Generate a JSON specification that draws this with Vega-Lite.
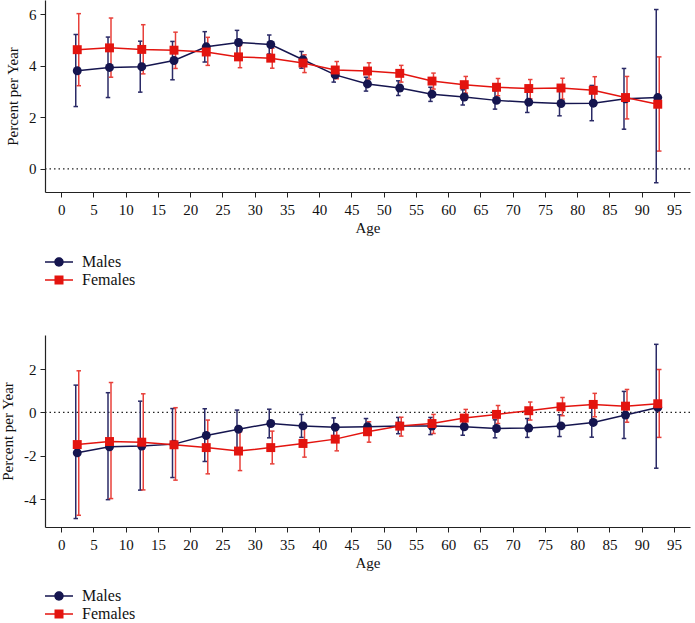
{
  "$schema": "https://vega.github.io/schema/vega-lite/v6.json",
  "background": "white",
  "padding": {"left": 0, "top": 0, "right": 5, "bottom": 0},
  "spacing": 47,
  "config": {
    "font": "Liberation Serif",
    "view": {"stroke": null},
    "axis": {"domainColor": "#222", "tickColor": "#222", "labelColor": "#111", "titleColor": "#111", "grid": false, "labelFont": "Liberation Serif", "titleFont": "Liberation Serif", "labelFontSize": 15, "titleFontSize": 15, "titleFontWeight": "normal", "tickSize": 5, "domainWidth": 1.2, "tickWidth": 1},
    "axisX": {"labelPadding": 5, "titlePadding": 3, "labelFlush": false, "labelOverlap": false},
    "axisY": {"labelPadding": 4, "titlePadding": 8, "labelExpr": "'' + datum.value"},
    "legend": {"labelFont": "Liberation Serif", "labelFontSize": 16, "labelColor": "#111"}
  },
  "resolve": {"scale": {"color": "independent", "shape": "independent"}, "legend": {"color": "independent", "shape": "independent"}},
  "datasets": {
    "top": [
      {"age": 2.5, "sex": "Males", "v": 3.81, "lo": 2.42, "hi": 5.22},
      {"age": 7.5, "sex": "Males", "v": 3.94, "lo": 2.77, "hi": 5.12},
      {"age": 12.5, "sex": "Males", "v": 3.97, "lo": 2.98, "hi": 4.96},
      {"age": 17.5, "sex": "Males", "v": 4.21, "lo": 3.46, "hi": 4.95},
      {"age": 22.5, "sex": "Males", "v": 4.74, "lo": 4.15, "hi": 5.33},
      {"age": 27.5, "sex": "Males", "v": 4.91, "lo": 4.45, "hi": 5.38},
      {"age": 32.5, "sex": "Males", "v": 4.83, "lo": 4.46, "hi": 5.20},
      {"age": 37.5, "sex": "Males", "v": 4.24, "lo": 3.91, "hi": 4.56},
      {"age": 42.5, "sex": "Males", "v": 3.65, "lo": 3.37, "hi": 3.94},
      {"age": 47.5, "sex": "Males", "v": 3.30, "lo": 3.02, "hi": 3.56},
      {"age": 52.5, "sex": "Males", "v": 3.14, "lo": 2.85, "hi": 3.42},
      {"age": 57.5, "sex": "Males", "v": 2.90, "lo": 2.62, "hi": 3.17},
      {"age": 62.5, "sex": "Males", "v": 2.79, "lo": 2.48, "hi": 3.07},
      {"age": 67.5, "sex": "Males", "v": 2.66, "lo": 2.32, "hi": 3.03},
      {"age": 72.5, "sex": "Males", "v": 2.59, "lo": 2.19, "hi": 3.01},
      {"age": 77.5, "sex": "Males", "v": 2.54, "lo": 2.06, "hi": 3.12},
      {"age": 82.5, "sex": "Males", "v": 2.55, "lo": 1.87, "hi": 3.24},
      {"age": 87.5, "sex": "Males", "v": 2.72, "lo": 1.54, "hi": 3.90},
      {"age": 92.5, "sex": "Males", "v": 2.77, "lo": -0.54, "hi": 6.19},
      {"age": 2.5, "sex": "Females", "v": 4.63, "lo": 3.23, "hi": 6.03},
      {"age": 7.5, "sex": "Females", "v": 4.70, "lo": 3.56, "hi": 5.86},
      {"age": 12.5, "sex": "Females", "v": 4.64, "lo": 3.69, "hi": 5.60},
      {"age": 17.5, "sex": "Females", "v": 4.61, "lo": 3.90, "hi": 5.31},
      {"age": 22.5, "sex": "Females", "v": 4.54, "lo": 4.02, "hi": 5.11},
      {"age": 27.5, "sex": "Females", "v": 4.35, "lo": 3.93, "hi": 4.79},
      {"age": 32.5, "sex": "Females", "v": 4.30, "lo": 3.91, "hi": 4.69},
      {"age": 37.5, "sex": "Females", "v": 4.11, "lo": 3.74, "hi": 4.43},
      {"age": 42.5, "sex": "Females", "v": 3.84, "lo": 3.50, "hi": 4.17},
      {"age": 47.5, "sex": "Females", "v": 3.80, "lo": 3.49, "hi": 4.12},
      {"age": 52.5, "sex": "Females", "v": 3.71, "lo": 3.37, "hi": 4.02},
      {"age": 57.5, "sex": "Females", "v": 3.41, "lo": 3.10, "hi": 3.72},
      {"age": 62.5, "sex": "Females", "v": 3.27, "lo": 2.94, "hi": 3.59},
      {"age": 67.5, "sex": "Females", "v": 3.17, "lo": 2.84, "hi": 3.51},
      {"age": 72.5, "sex": "Females", "v": 3.12, "lo": 2.72, "hi": 3.47},
      {"age": 77.5, "sex": "Females", "v": 3.14, "lo": 2.71, "hi": 3.52},
      {"age": 82.5, "sex": "Females", "v": 3.05, "lo": 2.50, "hi": 3.58},
      {"age": 87.5, "sex": "Females", "v": 2.77, "lo": 1.94, "hi": 3.59},
      {"age": 92.5, "sex": "Females", "v": 2.51, "lo": 0.69, "hi": 4.35}
    ],
    "bottom": [
      {"age": 2.5, "sex": "Males", "v": -1.86, "lo": -4.89, "hi": 1.26},
      {"age": 7.5, "sex": "Males", "v": -1.58, "lo": -4.02, "hi": 0.91},
      {"age": 12.5, "sex": "Males", "v": -1.55, "lo": -3.58, "hi": 0.52},
      {"age": 17.5, "sex": "Males", "v": -1.46, "lo": -3.00, "hi": 0.18},
      {"age": 22.5, "sex": "Males", "v": -1.06, "lo": -2.26, "hi": 0.17},
      {"age": 27.5, "sex": "Males", "v": -0.77, "lo": -1.63, "hi": 0.11},
      {"age": 32.5, "sex": "Males", "v": -0.51, "lo": -1.17, "hi": 0.15},
      {"age": 37.5, "sex": "Males", "v": -0.62, "lo": -1.15, "hi": -0.09},
      {"age": 42.5, "sex": "Males", "v": -0.68, "lo": -1.12, "hi": -0.25},
      {"age": 47.5, "sex": "Males", "v": -0.66, "lo": -1.02, "hi": -0.28},
      {"age": 52.5, "sex": "Males", "v": -0.62, "lo": -0.98, "hi": -0.23},
      {"age": 57.5, "sex": "Males", "v": -0.63, "lo": -1.02, "hi": -0.23},
      {"age": 62.5, "sex": "Males", "v": -0.66, "lo": -1.05, "hi": -0.26},
      {"age": 67.5, "sex": "Males", "v": -0.74, "lo": -1.17, "hi": -0.34},
      {"age": 72.5, "sex": "Males", "v": -0.72, "lo": -1.15, "hi": -0.28},
      {"age": 77.5, "sex": "Males", "v": -0.62, "lo": -1.11, "hi": -0.11},
      {"age": 82.5, "sex": "Males", "v": -0.46, "lo": -1.14, "hi": 0.23},
      {"age": 87.5, "sex": "Males", "v": -0.12, "lo": -1.20, "hi": 0.97},
      {"age": 92.5, "sex": "Males", "v": 0.23, "lo": -2.57, "hi": 3.14},
      {"age": 2.5, "sex": "Females", "v": -1.48, "lo": -4.74, "hi": 1.92},
      {"age": 7.5, "sex": "Females", "v": -1.34, "lo": -3.97, "hi": 1.38},
      {"age": 12.5, "sex": "Females", "v": -1.37, "lo": -3.57, "hi": 0.86},
      {"age": 17.5, "sex": "Females", "v": -1.49, "lo": -3.12, "hi": 0.22},
      {"age": 22.5, "sex": "Females", "v": -1.62, "lo": -2.83, "hi": -0.35},
      {"age": 27.5, "sex": "Females", "v": -1.78, "lo": -2.68, "hi": -0.89},
      {"age": 32.5, "sex": "Females", "v": -1.62, "lo": -2.37, "hi": -0.86},
      {"age": 37.5, "sex": "Females", "v": -1.43, "lo": -2.06, "hi": -0.69},
      {"age": 42.5, "sex": "Females", "v": -1.23, "lo": -1.77, "hi": -0.71},
      {"age": 47.5, "sex": "Females", "v": -0.89, "lo": -1.37, "hi": -0.43},
      {"age": 52.5, "sex": "Females", "v": -0.63, "lo": -1.09, "hi": -0.22},
      {"age": 57.5, "sex": "Females", "v": -0.51, "lo": -0.97, "hi": -0.09},
      {"age": 62.5, "sex": "Females", "v": -0.26, "lo": -0.69, "hi": 0.14},
      {"age": 67.5, "sex": "Females", "v": -0.09, "lo": -0.51, "hi": 0.32},
      {"age": 72.5, "sex": "Females", "v": 0.08, "lo": -0.35, "hi": 0.48},
      {"age": 77.5, "sex": "Females", "v": 0.26, "lo": -0.15, "hi": 0.69},
      {"age": 82.5, "sex": "Females", "v": 0.37, "lo": -0.20, "hi": 0.88},
      {"age": 87.5, "sex": "Females", "v": 0.29, "lo": -0.45, "hi": 1.06},
      {"age": 92.5, "sex": "Females", "v": 0.40, "lo": -1.15, "hi": 1.98}
    ]
  },
  "vconcat": [
    {
      "width": 645, "height": 192,
      "data": {"name": "top"},
      "layer": [
        {"data": {"values": [{"ref": 0}]}, "mark": {"type": "rule", "strokeDash": [1.5, 3], "color": "#222", "strokeWidth": 1.2}, "encoding": {"y": {"field": "ref", "type": "quantitative", "scale": {"domain": [-0.9, 6.56], "nice": false, "zero": false}, "axis": {"values": [0, 2, 4, 6]}, "title": "Percent per Year"}}},
        {"transform": [{"filter": "datum.sex === 'Males'"}], "mark": {"type": "rule", "color": "#2a2a66", "strokeWidth": 1.5, "xOffset": -1.5}, "encoding": {"x": {"field": "age", "type": "quantitative", "scale": {"domain": [-2.5, 97.5], "nice": false, "zero": false}, "axis": {"values": [0, 5, 10, 15, 20, 25, 30, 35, 40, 45, 50, 55, 60, 65, 70, 75, 80, 85, 90, 95]}, "title": "Age"}, "y": {"field": "lo", "type": "quantitative", "axis": {"values": [0, 2, 4, 6]}, "title": "Percent per Year"}, "y2": {"field": "hi"}}},
        {"transform": [{"filter": "datum.sex === 'Males'"}], "mark": {"type": "tick", "orient": "horizontal", "color": "#2a2a66", "size": 4.5, "thickness": 1.5, "opacity": 1, "xOffset": -1.5}, "encoding": {"x": {"field": "age", "type": "quantitative", "axis": {"values": [0, 5, 10, 15, 20, 25, 30, 35, 40, 45, 50, 55, 60, 65, 70, 75, 80, 85, 90, 95]}, "title": "Age"}, "y": {"field": "lo", "type": "quantitative", "axis": {"values": [0, 2, 4, 6]}, "title": "Percent per Year"}}},
        {"transform": [{"filter": "datum.sex === 'Males'"}], "mark": {"type": "tick", "orient": "horizontal", "color": "#2a2a66", "size": 4.5, "thickness": 1.5, "opacity": 1, "xOffset": -1.5}, "encoding": {"x": {"field": "age", "type": "quantitative", "axis": {"values": [0, 5, 10, 15, 20, 25, 30, 35, 40, 45, 50, 55, 60, 65, 70, 75, 80, 85, 90, 95]}, "title": "Age"}, "y": {"field": "hi", "type": "quantitative", "axis": {"values": [0, 2, 4, 6]}, "title": "Percent per Year"}}},
        {"transform": [{"filter": "datum.sex === 'Females'"}], "mark": {"type": "rule", "color": "#e8403a", "strokeWidth": 1.5, "xOffset": 1.5}, "encoding": {"x": {"field": "age", "type": "quantitative", "axis": {"values": [0, 5, 10, 15, 20, 25, 30, 35, 40, 45, 50, 55, 60, 65, 70, 75, 80, 85, 90, 95]}, "title": "Age"}, "y": {"field": "lo", "type": "quantitative", "axis": {"values": [0, 2, 4, 6]}, "title": "Percent per Year"}, "y2": {"field": "hi"}}},
        {"transform": [{"filter": "datum.sex === 'Females'"}], "mark": {"type": "tick", "orient": "horizontal", "color": "#e8403a", "size": 4.5, "thickness": 1.5, "opacity": 1, "xOffset": 1.5}, "encoding": {"x": {"field": "age", "type": "quantitative", "axis": {"values": [0, 5, 10, 15, 20, 25, 30, 35, 40, 45, 50, 55, 60, 65, 70, 75, 80, 85, 90, 95]}, "title": "Age"}, "y": {"field": "lo", "type": "quantitative", "axis": {"values": [0, 2, 4, 6]}, "title": "Percent per Year"}}},
        {"transform": [{"filter": "datum.sex === 'Females'"}], "mark": {"type": "tick", "orient": "horizontal", "color": "#e8403a", "size": 4.5, "thickness": 1.5, "opacity": 1, "xOffset": 1.5}, "encoding": {"x": {"field": "age", "type": "quantitative", "axis": {"values": [0, 5, 10, 15, 20, 25, 30, 35, 40, 45, 50, 55, 60, 65, 70, 75, 80, 85, 90, 95]}, "title": "Age"}, "y": {"field": "hi", "type": "quantitative", "axis": {"values": [0, 2, 4, 6]}, "title": "Percent per Year"}}},
        {"transform": [{"filter": "datum.sex === 'Males'"}], "mark": {"type": "line", "color": "#15154f", "strokeWidth": 1.5}, "encoding": {"x": {"field": "age", "type": "quantitative", "axis": {"values": [0, 5, 10, 15, 20, 25, 30, 35, 40, 45, 50, 55, 60, 65, 70, 75, 80, 85, 90, 95]}, "title": "Age"}, "y": {"field": "v", "type": "quantitative", "axis": {"values": [0, 2, 4, 6]}, "title": "Percent per Year"}}},
        {"transform": [{"filter": "datum.sex === 'Females'"}], "mark": {"type": "line", "color": "#e3140f", "strokeWidth": 1.5}, "encoding": {"x": {"field": "age", "type": "quantitative", "axis": {"values": [0, 5, 10, 15, 20, 25, 30, 35, 40, 45, 50, 55, 60, 65, 70, 75, 80, 85, 90, 95]}, "title": "Age"}, "y": {"field": "v", "type": "quantitative", "axis": {"values": [0, 2, 4, 6]}, "title": "Percent per Year"}}},
        {"transform": [{"filter": "datum.sex === 'Males'"}], "mark": {"type": "point", "shape": "circle", "filled": true, "opacity": 1, "size": 80, "color": "#15154f"}, "encoding": {"x": {"field": "age", "type": "quantitative", "axis": {"values": [0, 5, 10, 15, 20, 25, 30, 35, 40, 45, 50, 55, 60, 65, 70, 75, 80, 85, 90, 95]}, "title": "Age"}, "y": {"field": "v", "type": "quantitative", "axis": {"values": [0, 2, 4, 6]}, "title": "Percent per Year"}}},
        {"transform": [{"filter": "datum.sex === 'Females'"}], "mark": {"type": "point", "shape": "square", "filled": true, "opacity": 1, "size": 80, "color": "#e3140f"}, "encoding": {"x": {"field": "age", "type": "quantitative", "axis": {"values": [0, 5, 10, 15, 20, 25, 30, 35, 40, 45, 50, 55, 60, 65, 70, 75, 80, 85, 90, 95]}, "title": "Age"}, "y": {"field": "v", "type": "quantitative", "axis": {"values": [0, 2, 4, 6]}, "title": "Percent per Year"}}},
        {"transform": [{"filter": "false"}], "mark": {"type": "point", "filled": true, "opacity": 1, "size": 400}, "encoding": {
          "x": {"field": "age", "type": "quantitative", "axis": {"values": [0, 5, 10, 15, 20, 25, 30, 35, 40, 45, 50, 55, 60, 65, 70, 75, 80, 85, 90, 95]}, "title": "Age"},
          "y": {"field": "v", "type": "quantitative", "axis": {"values": [0, 2, 4, 6]}, "title": "Percent per Year"},
          "color": {"field": "sex", "type": "nominal", "scale": {"domain": ["Males", "Females"], "range": ["#15154f", "#e3140f"]}, "legend": {"title": null, "orient": "none", "legendX": 4, "legendY": 252, "symbolSize": 400, "labelOffset": 13, "rowPadding": 0, "symbolStrokeWidth": 0}},
          "shape": {"field": "sex", "type": "nominal", "scale": {"domain": ["Males", "Females"], "range": ["M-1.4,-0.08H1.4V0.08H-1.4ZM0.47,0A0.47,0.47,0,1,1,-0.47,0A0.47,0.47,0,1,1,0.47,0Z", "M-1.4,-0.08H1.4V0.08H-1.4ZM-0.45,-0.45H0.45V0.45H-0.45Z"]}, "legend": {"title": null, "orient": "none", "legendX": 4, "legendY": 252, "symbolSize": 400, "labelOffset": 13, "rowPadding": 0, "symbolStrokeWidth": 0}}
        }}
      ]
    },
    {
      "width": 645, "height": 192,
      "data": {"name": "bottom"},
      "layer": [
        {"data": {"values": [{"ref": 0}]}, "mark": {"type": "rule", "strokeDash": [1.5, 3], "color": "#222", "strokeWidth": 1.2}, "encoding": {"y": {"field": "ref", "type": "quantitative", "scale": {"domain": [-5.28, 3.57], "nice": false, "zero": false}, "axis": {"values": [-4, -2, 0, 2]}, "title": "Percent per Year"}}},
        {"transform": [{"filter": "datum.sex === 'Males'"}], "mark": {"type": "rule", "color": "#2a2a66", "strokeWidth": 1.5, "xOffset": -1.5}, "encoding": {"x": {"field": "age", "type": "quantitative", "scale": {"domain": [-2.5, 97.5], "nice": false, "zero": false}, "axis": {"values": [0, 5, 10, 15, 20, 25, 30, 35, 40, 45, 50, 55, 60, 65, 70, 75, 80, 85, 90, 95]}, "title": "Age"}, "y": {"field": "lo", "type": "quantitative", "axis": {"values": [-4, -2, 0, 2]}, "title": "Percent per Year"}, "y2": {"field": "hi"}}},
        {"transform": [{"filter": "datum.sex === 'Males'"}], "mark": {"type": "tick", "orient": "horizontal", "color": "#2a2a66", "size": 4.5, "thickness": 1.5, "opacity": 1, "xOffset": -1.5}, "encoding": {"x": {"field": "age", "type": "quantitative", "axis": {"values": [0, 5, 10, 15, 20, 25, 30, 35, 40, 45, 50, 55, 60, 65, 70, 75, 80, 85, 90, 95]}, "title": "Age"}, "y": {"field": "lo", "type": "quantitative", "axis": {"values": [-4, -2, 0, 2]}, "title": "Percent per Year"}}},
        {"transform": [{"filter": "datum.sex === 'Males'"}], "mark": {"type": "tick", "orient": "horizontal", "color": "#2a2a66", "size": 4.5, "thickness": 1.5, "opacity": 1, "xOffset": -1.5}, "encoding": {"x": {"field": "age", "type": "quantitative", "axis": {"values": [0, 5, 10, 15, 20, 25, 30, 35, 40, 45, 50, 55, 60, 65, 70, 75, 80, 85, 90, 95]}, "title": "Age"}, "y": {"field": "hi", "type": "quantitative", "axis": {"values": [-4, -2, 0, 2]}, "title": "Percent per Year"}}},
        {"transform": [{"filter": "datum.sex === 'Females'"}], "mark": {"type": "rule", "color": "#e8403a", "strokeWidth": 1.5, "xOffset": 1.5}, "encoding": {"x": {"field": "age", "type": "quantitative", "axis": {"values": [0, 5, 10, 15, 20, 25, 30, 35, 40, 45, 50, 55, 60, 65, 70, 75, 80, 85, 90, 95]}, "title": "Age"}, "y": {"field": "lo", "type": "quantitative", "axis": {"values": [-4, -2, 0, 2]}, "title": "Percent per Year"}, "y2": {"field": "hi"}}},
        {"transform": [{"filter": "datum.sex === 'Females'"}], "mark": {"type": "tick", "orient": "horizontal", "color": "#e8403a", "size": 4.5, "thickness": 1.5, "opacity": 1, "xOffset": 1.5}, "encoding": {"x": {"field": "age", "type": "quantitative", "axis": {"values": [0, 5, 10, 15, 20, 25, 30, 35, 40, 45, 50, 55, 60, 65, 70, 75, 80, 85, 90, 95]}, "title": "Age"}, "y": {"field": "lo", "type": "quantitative", "axis": {"values": [-4, -2, 0, 2]}, "title": "Percent per Year"}}},
        {"transform": [{"filter": "datum.sex === 'Females'"}], "mark": {"type": "tick", "orient": "horizontal", "color": "#e8403a", "size": 4.5, "thickness": 1.5, "opacity": 1, "xOffset": 1.5}, "encoding": {"x": {"field": "age", "type": "quantitative", "axis": {"values": [0, 5, 10, 15, 20, 25, 30, 35, 40, 45, 50, 55, 60, 65, 70, 75, 80, 85, 90, 95]}, "title": "Age"}, "y": {"field": "hi", "type": "quantitative", "axis": {"values": [-4, -2, 0, 2]}, "title": "Percent per Year"}}},
        {"transform": [{"filter": "datum.sex === 'Males'"}], "mark": {"type": "line", "color": "#15154f", "strokeWidth": 1.5}, "encoding": {"x": {"field": "age", "type": "quantitative", "axis": {"values": [0, 5, 10, 15, 20, 25, 30, 35, 40, 45, 50, 55, 60, 65, 70, 75, 80, 85, 90, 95]}, "title": "Age"}, "y": {"field": "v", "type": "quantitative", "axis": {"values": [-4, -2, 0, 2]}, "title": "Percent per Year"}}},
        {"transform": [{"filter": "datum.sex === 'Females'"}], "mark": {"type": "line", "color": "#e3140f", "strokeWidth": 1.5}, "encoding": {"x": {"field": "age", "type": "quantitative", "axis": {"values": [0, 5, 10, 15, 20, 25, 30, 35, 40, 45, 50, 55, 60, 65, 70, 75, 80, 85, 90, 95]}, "title": "Age"}, "y": {"field": "v", "type": "quantitative", "axis": {"values": [-4, -2, 0, 2]}, "title": "Percent per Year"}}},
        {"transform": [{"filter": "datum.sex === 'Males'"}], "mark": {"type": "point", "shape": "circle", "filled": true, "opacity": 1, "size": 80, "color": "#15154f"}, "encoding": {"x": {"field": "age", "type": "quantitative", "axis": {"values": [0, 5, 10, 15, 20, 25, 30, 35, 40, 45, 50, 55, 60, 65, 70, 75, 80, 85, 90, 95]}, "title": "Age"}, "y": {"field": "v", "type": "quantitative", "axis": {"values": [-4, -2, 0, 2]}, "title": "Percent per Year"}}},
        {"transform": [{"filter": "datum.sex === 'Females'"}], "mark": {"type": "point", "shape": "square", "filled": true, "opacity": 1, "size": 80, "color": "#e3140f"}, "encoding": {"x": {"field": "age", "type": "quantitative", "axis": {"values": [0, 5, 10, 15, 20, 25, 30, 35, 40, 45, 50, 55, 60, 65, 70, 75, 80, 85, 90, 95]}, "title": "Age"}, "y": {"field": "v", "type": "quantitative", "axis": {"values": [-4, -2, 0, 2]}, "title": "Percent per Year"}}},
        {"transform": [{"filter": "false"}], "mark": {"type": "point", "filled": true, "opacity": 1, "size": 400}, "encoding": {
          "x": {"field": "age", "type": "quantitative", "axis": {"values": [0, 5, 10, 15, 20, 25, 30, 35, 40, 45, 50, 55, 60, 65, 70, 75, 80, 85, 90, 95]}, "title": "Age"},
          "y": {"field": "v", "type": "quantitative", "axis": {"values": [-4, -2, 0, 2]}, "title": "Percent per Year"},
          "color": {"field": "sex", "type": "nominal", "scale": {"domain": ["Males", "Females"], "range": ["#15154f", "#e3140f"]}, "legend": {"title": null, "orient": "none", "legendX": 4, "legendY": 251, "symbolSize": 400, "labelOffset": 13, "rowPadding": 0, "symbolStrokeWidth": 0}},
          "shape": {"field": "sex", "type": "nominal", "scale": {"domain": ["Males", "Females"], "range": ["M-1.4,-0.08H1.4V0.08H-1.4ZM0.47,0A0.47,0.47,0,1,1,-0.47,0A0.47,0.47,0,1,1,0.47,0Z", "M-1.4,-0.08H1.4V0.08H-1.4ZM-0.45,-0.45H0.45V0.45H-0.45Z"]}, "legend": {"title": null, "orient": "none", "legendX": 4, "legendY": 251, "symbolSize": 400, "labelOffset": 13, "rowPadding": 0, "symbolStrokeWidth": 0}}
        }}
      ]
    }
  ]
}
